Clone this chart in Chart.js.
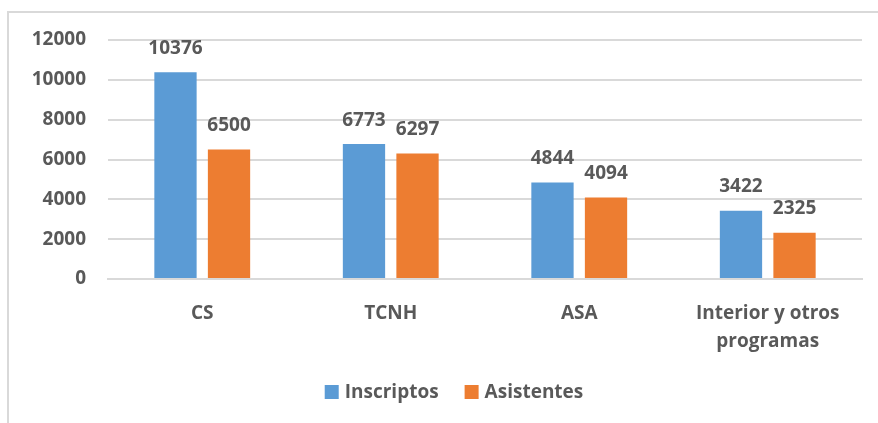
<!DOCTYPE html>
<html>
<head>
<meta charset="utf-8">
<script src="https://cdn.jsdelivr.net/npm/chart.js@4/dist/chart.umd.min.js"></script>
<style>
  html, body { margin: 0; padding: 0; background: #fff; }
  #wrap { position: relative; width: 878px; height: 423px; }
</style>
</head>
<body>
<div id="wrap"><canvas id="barChart" width="878" height="423"></canvas></div>
<script>
const categories = ['CS', 'TCNH', 'ASA', ['Interior y otros', 'programas']];
const inscriptos = [10376, 6773, 4844, 3422];
const asistentes = [6500, 6297, 4094, 2325];
const yTicks = [0, 2000, 4000, 6000, 8000, 10000, 12000];

const textColor = '#595959';
const gridColor = '#d9d9d9';
const fontFamily = '"Open Sans", sans-serif';
const labelFont = 'bold 19px ' + fontFamily;

// labels above each bar, like Excel's data labels
const valueLabels = {
  id: 'valueLabels',
  afterDatasetsDraw(chart) {
    const ctx = chart.ctx;
    ctx.save();
    ctx.font = labelFont;
    ctx.fillStyle = textColor;
    ctx.textAlign = 'center';
    ctx.textBaseline = 'middle';
    chart.data.datasets.forEach((ds, i) => {
      chart.getDatasetMeta(i).data.forEach((bar, j) => {
        ctx.fillText(String(ds.data[j]), bar.x, bar.y - 24);
      });
    });
    ctx.restore();
  }
};

// Excel style legend: small square, short gap, centred under the plot
const bottomLegend = {
  id: 'bottomLegend',
  afterDraw(chart) {
    const ctx = chart.ctx;
    const box = 14, gap = 6, spacing = 26, y = 392;
    ctx.save();
    ctx.font = labelFont;
    ctx.textBaseline = 'middle';
    ctx.textAlign = 'left';
    const items = chart.data.datasets.map((ds) => ({
      text: ds.label, color: ds.backgroundColor, w: ctx.measureText(ds.label).width,
    }));
    let total = items.reduce((s, it) => s + box + gap + it.w, 0) + spacing * (items.length - 1);
    let x = 454 - total / 2;
    items.forEach((it) => {
      ctx.fillStyle = it.color;
      ctx.fillRect(x, y - box / 2, box, box);
      x += box + gap;
      ctx.fillStyle = textColor;
      ctx.fillText(it.text, x, y + 1);
      x += it.w + spacing;
    });
    ctx.restore();
  }
};

// light frame on the left and top edges
const frame = {
  id: 'frame',
  beforeDraw(chart) {
    const ctx = chart.ctx;
    ctx.save();
    ctx.strokeStyle = gridColor;
    ctx.lineWidth = 2;
    ctx.beginPath();
    ctx.moveTo(8, chart.height);
    ctx.lineTo(8, 12);
    ctx.lineTo(chart.width, 12);
    ctx.stroke();
    ctx.restore();
  }
};

new Chart(document.getElementById('barChart'), {
  type: 'bar',
  data: {
    labels: categories,
    datasets: [
      {
        label: 'Inscriptos',
        data: inscriptos,
        backgroundColor: '#5b9bd5',
        categoryPercentage: 0.568,
        barPercentage: 0.79,
      },
      {
        label: 'Asistentes',
        data: asistentes,
        backgroundColor: '#ed7d31',
        categoryPercentage: 0.568,
        barPercentage: 0.79,
      },
    ],
  },
  options: {
    responsive: false,
    animation: false,
    layout: { padding: { top: 40, right: 16, left: 0, bottom: 0 } },
    scales: {
      y: {
        min: 0,
        max: 12000,
        afterFit: (scale) => { scale.width = 108; },
        afterBuildTicks: (scale) => { scale.ticks = yTicks.map((v) => ({ value: v })); },
        grid: { color: gridColor, lineWidth: 2, drawTicks: false },
        border: { display: false },
        ticks: {
          padding: 22,
          color: textColor,
          font: { family: fontFamily, size: 19, weight: 'bold' },
          callback: (v) => String(v),
        },
      },
      x: {
        afterFit: (scale) => { scale.height = 144; },
        grid: { display: false },
        border: { color: gridColor, width: 2 },
        ticks: {
          padding: 13,
          color: textColor,
          font: { family: fontFamily, size: 19, weight: 'bold', lineHeight: 1.45 },
        },
      },
    },
    plugins: {
      legend: { display: false },
      tooltip: { enabled: false },
    },
  },
  plugins: [frame, valueLabels, bottomLegend],
});
</script>
</body>
</html>
